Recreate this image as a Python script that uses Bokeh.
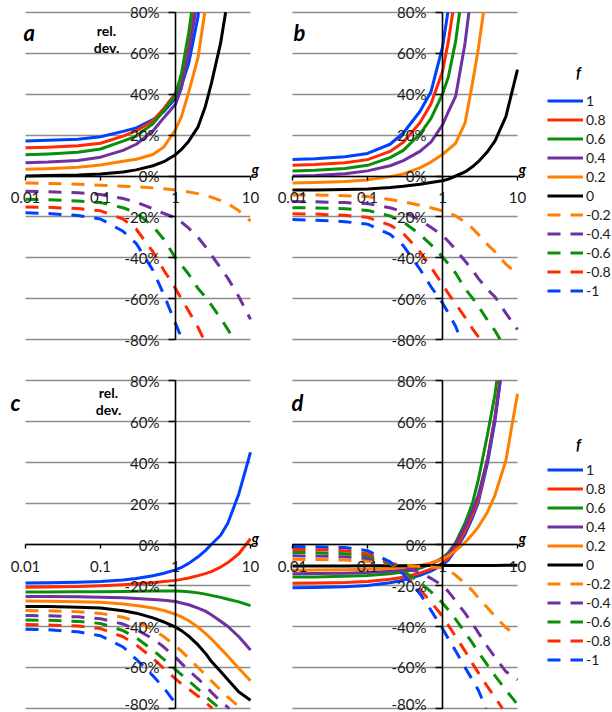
import numpy as np
from bokeh.plotting import figure
from bokeh.models import FixedTicker, Label, Legend, LegendItem
from bokeh.layouts import column, row
from bokeh.embed import file_html
from bokeh.resources import INLINE

# ---------------- data ----------------
G = [0.01, 0.02, 0.05, 0.1, 0.2, 0.3, 0.5, 0.7, 1, 1.2, 1.5, 2, 2.5, 3, 4, 5, 7, 10]

F_LABELS = ["1", "0.8", "0.6", "0.4", "0.2", "0", "-0.2", "-0.4", "-0.6", "-0.8", "-1"]
X_TICKS = [0.01, 0.1, 1, 10]
X_TICK_LABELS = ["0.01", "0.1", "1", "10"]
Y_TICKS = [-80, -60, -40, -20, 0, 20, 40, 60, 80]
Y_TICK_LABELS = ["-80%", "-60%", "-40%", "-20%", "0%", "20%", "40%", "60%", "80%"]

# panel a (rel. dev. in %, at the g values of G)
A_P10 = [17.1, 17.4, 18, 19.2, 21.8, 23.5, 27.5, 31.5, 38, 44, 55, 78]
A_P08 = [13.8, 14.1, 14.8, 16, 19.5, 22, 27, 33, 40.5, 48, 63]
A_P06 = [10.4, 10.8, 11.6, 13.2, 17, 19.5, 25.5, 32, 39.5, 50, 70]
A_P04 = [6.5, 6.8, 7.6, 9.2, 12.5, 15.5, 22, 28.5, 35, 43, 60]
A_P02 = [3.3, 3.6, 4.3, 5.4, 7.2, 8.2, 10.5, 14.2, 22.6, 29, 41, 58]
A_Z = [0, 0.2, 0.5, 1, 2, 3, 5, 7, 10.4, 13, 17, 24, 34, 45, 65]
A_M02 = [-3.4, -3.6, -4, -4.5, -5, -5.3, -5.8, -6.2, -6.8, -7.2, -7.8, -8.6, -9.5, -10.3, -12, -13.5, -17, -22]
A_M04 = [-7.5, -7.7, -8.2, -9, -11, -12.8, -16, -18.3, -20.4, -22.5, -25.5, -30, -34.5, -38.5, -45, -50, -59, -70]
A_M06 = [-11.4, -11.6, -12.2, -13, -15.5, -18, -24.5, -31, -40, -43.5, -48, -55, -59, -63, -69.5, -75]
A_M08 = [-15.1, -15.3, -15.9, -17, -21, -26, -37, -46, -55, -60, -66, -74]
A_M10 = [-18, -18.3, -19.3, -21, -27, -33, -46, -58, -72, -79]
# g at which a curve leaves the chart through the 80% / -80% edge
A_EXIT = [2.02, 1.75, 1.64, 1.85, 2.46, 4.66, None, None, 6.0, 2.4, 1.23]

# panel b
B_P10 = [8, 8.4, 9.4, 11, 15.5, 21, 31.5, 41, 63]
B_P08 = [5.2, 5.6, 6.5, 8, 12, 16.5, 26, 35, 51, 66]
B_P06 = [2.4, 2.8, 3.7, 5.2, 9, 12.5, 20.5, 28, 40, 48.5, 66]
B_P04 = [0, 0.3, 1.1, 2.5, 5, 7.5, 12, 16.5, 25, 31.5, 39, 65]
B_P02 = [-3.4, -3.2, -2.7, -1.9, -0.3, 1, 4, 6.8, 10.5, 13, 16, 26, 45, 62]
B_Z = [-6.8, -6.8, -6.6, -6.3, -5.6, -5, -4, -3.2, -2.3, -1.5, 0, 2, 4.5, 7, 12, 17, 29, 52]
B_M02 = [-9.3, -9.3, -9.6, -10, -11.5, -12.5, -14.3, -15.5, -17, -18, -19.5, -22.5, -25.5, -28.5, -33.5, -37, -43, -48]
B_M04 = [-12.5, -12.6, -13, -13.5, -15.5, -17.5, -21.5, -25, -29, -32, -36, -41.5, -46, -50, -55.5, -59, -67, -75]
B_M06 = [-15.5, -15.6, -16, -16.8, -19.5, -22.5, -28.5, -33.5, -39.5, -43, -47.5, -55, -59.5, -63.5, -70.5, -75.5]
B_M08 = [-18.4, -18.6, -19.2, -20.2, -24, -28, -37, -44.5, -53, -57.5, -62.5, -69, -74.5, -78.5]
B_M10 = [-21.3, -21.6, -22.3, -23.5, -28.5, -34, -45.5, -54, -62, -67, -73.5]
B_EXIT = [1.18, 1.37, 1.69, 2.25, 3.52, None, None, None, 5.9, 3.2, 1.75]

# panel c
C_P10 = [-18.8, -18.7, -18.4, -18, -17.3, -16.6, -15.2, -14, -12.4, -11.2, -9.2, -6, -3, 0, 4.5, 10.5, 24.8, 45]
C_P08 = [-20.8, -20.7, -20.5, -20.1, -19.6, -19.2, -18.6, -18.1, -17.5, -17, -16.3, -15.2, -14.2, -13.2, -11, -8.8, -4.5, 2.8]
C_P06 = [-23.2, -23.2, -23.1, -23, -22.9, -22.8, -22.7, -22.7, -22.7, -22.8, -23, -23.6, -24.2, -24.8, -25.8, -26.7, -28, -29.8]
C_P04 = [-25.4, -25.4, -25.5, -25.7, -26, -26.3, -26.8, -27.2, -27.8, -28.5, -29.4, -31, -32.5, -34.3, -37.4, -40, -45, -51.5]
C_P02 = [-27.6, -27.7, -27.9, -28.2, -29, -29.8, -31, -32.2, -34, -35.3, -37.2, -40.3, -43.4, -46, -50.8, -54.5, -60.5, -66.5]
C_Z = [-30.2, -30.3, -30.6, -31, -32.3, -33.5, -35.8, -37.8, -40.3, -42, -44.7, -49, -53, -57, -62, -66, -72, -76]
C_M02 = [-32.2, -32.3, -32.8, -33.6, -35.5, -37.5, -41.5, -45, -49.5, -52, -55.5, -60, -63.5, -66.5, -71, -74.5, -79]
C_M04 = [-34.6, -34.8, -35.3, -36.2, -38.8, -41.5, -46, -50, -55, -58, -61.5, -65.5, -69, -72, -76.5, -79.5]
C_M06 = [-36.8, -37, -37.5, -38.5, -42, -45.5, -51.5, -56, -61, -63.5, -66.5, -70.5, -74, -76.5]
C_M08 = [-39, -39.2, -39.8, -41, -45, -49, -55.5, -60.5, -65.5, -68, -70.5, -74, -77, -79.5]
C_M10 = [-41.3, -41.6, -42.6, -44.5, -50, -56, -64, -70, -77.5]
C_EXIT = [None, None, None, None, None, None, 7.5, 5.2, 3.9, 3.1, 1.12]

# panel d
D_P10 = [-21.1, -21, -20.6, -20, -18.7, -17.4, -15, -13, -10, -7.5, -2.5, 5, 13, 20.5, 40, 60]
D_P08 = [-18.9, -18.8, -18.5, -18, -17, -16, -14, -12, -9, -6.5, -1.5, 6.5, 14.5, 22, 42, 62]
D_P06 = [-15.9, -15.8, -15.5, -15.1, -14.3, -13.4, -11.6, -9.6, -6.5, -4, 1, 10.5, 20, 31.5, 54, 73]
D_P04 = [-14.3, -14.2, -14, -13.7, -13, -12.3, -11, -9.5, -6.8, -4.5, 0.5, 8.5, 16.5, 24, 42, 62]
D_P02 = [-12.5, -12.4, -12.3, -12.1, -11.7, -11.2, -10.2, -9, -7, -5.5, -3, 1, 5, 8.5, 16, 24, 41, 73.5]
D_Z = [-10.5, -10.5, -10.5, -10.4, -10.4, -10.4, -10.3, -10.3, -10.3, -10.3, -10.3, -10.2, -10.2, -10.2, -10.2, -10.2, -10.1, -10.1]
D_M02 = [-7.2, -7.3, -7.6, -8.2, -9.2, -10, -10.7, -11, -11.5, -12.5, -15, -19, -22.5, -26, -31, -35, -40.5, -45]
D_M04 = [-5.5, -5.6, -6, -6.8, -9, -11.5, -13.5, -16.5, -20, -23, -27.5, -33.5, -38.5, -43, -50, -55, -62, -66]
D_M06 = [-3.9, -4, -4.5, -5.5, -9.5, -13, -18.5, -23, -28.5, -32, -36.5, -43, -48, -52.5, -59, -64, -71, -78]
D_M08 = [-2.4, -2.5, -3, -4.5, -9, -14, -22, -28, -35, -39.5, -45, -52, -58, -62.5, -69.5, -74.5]
D_M10 = [-1, -1.1, -1.5, -3, -8.5, -14.5, -24, -32, -41, -46, -52, -60, -66, -71]
D_EXIT = [5.9, 5.8, 5.3, 5.9, None, None, None, None, None, 6.3, 3.8]

PANEL_A = [A_P10, A_P08, A_P06, A_P04, A_P02, A_Z, A_M02, A_M04, A_M06, A_M08, A_M10]
PANEL_B = [B_P10, B_P08, B_P06, B_P04, B_P02, B_Z, B_M02, B_M04, B_M06, B_M08, B_M10]
PANEL_C = [C_P10, C_P08, C_P06, C_P04, C_P02, C_Z, C_M02, C_M04, C_M06, C_M08, C_M10]
PANEL_D = [D_P10, D_P08, D_P06, D_P04, D_P02, D_Z, D_M02, D_M04, D_M06, D_M08, D_M10]

# ---------------- style / geometry ----------------
BLUE, RED, GREEN, PURPLE, ORANGE, BLACK = "#0040ff", "#ff2a00", "#0a8f0a", "#7030a0", "#ff8000", "#000000"
COLORS = [BLUE, RED, GREEN, PURPLE, ORANGE, BLACK, ORANGE, PURPLE, GREEN, RED, BLUE]
DASHED = [False] * 6 + [True] * 5
FONT = "Lato"
TXT = "#1a1a1a"
GRID = "#8c8c8c"

X_LO, X_HI = X_TICKS[0], X_TICKS[-1]
Y_LO, Y_HI = Y_TICKS[0], Y_TICKS[-1]
PX_PER_DECADE = 75.0
PX_PER_PCT = 327.6 / (Y_HI - Y_LO)


def series_xy(vals, exit_g):
    xs = G[:len(vals)]
    ys = list(vals)
    if exit_g is not None:
        xs = xs + [exit_g]
        ys = ys + [Y_HI if vals[-1] > 0 else Y_LO]
    return xs, ys


def bold_label(p, x, y, dx, dy, text, size, style="bold", align="left"):
    p.add_layout(Label(x=x, y=y, x_offset=dx, y_offset=dy, text=text,
                       text_font=FONT, text_font_size=size, text_font_style=style,
                       text_color="#000000", text_align=align,
                       text_baseline="alphabetic"))


def panel(series, exits, width, height, pad, letter, letter_off, rel_off, legend_loc, f_dy):
    # pad = pixels around the plotted data area: left, right, top, bottom
    left, right, top, bottom = pad
    x0, x1 = X_LO * 10 ** (-left / PX_PER_DECADE), X_HI * 10 ** (right / PX_PER_DECADE)
    y0, y1 = Y_LO - bottom / PX_PER_PCT, Y_HI + top / PX_PER_PCT
    p = figure(x_axis_type="log", x_range=(x0, x1), y_range=(y0, y1),
               width=width, height=height,
               min_border_left=0, min_border_right=0, min_border_top=0, min_border_bottom=0,
               output_backend="svg", toolbar_location=None)
    p.outline_line_color = None
    p.background_fill_color = "white"
    p.border_fill_color = "white"
    p.xgrid.visible = False
    p.ygrid.ticker = FixedTicker(ticks=Y_TICKS, minor_ticks=[])
    p.ygrid.grid_line_color = GRID
    p.ygrid.grid_line_width = 1.3
    try:
        p.ygrid.cross_bounds = (X_LO, X_HI)
    except Exception:
        p.ygrid.visible = False
        n = len(Y_TICKS)
        p.segment(x0=[X_LO] * n, x1=[X_HI] * n, y0=Y_TICKS, y1=Y_TICKS,
                  line_color=GRID, line_width=1.3, level="underlay")

    rends = []
    for vals, ex, col, dashed in zip(series, exits, COLORS, DASHED):
        xs, ys = series_xy(vals, ex)
        r = p.line(xs, ys, line_color=col, line_width=3,
                   line_dash="13 10" if dashed else "solid", line_join="round")
        rends.append(r)

    xa = p.xaxis[0]
    ya = p.yaxis[0]
    xa.fixed_location = 0
    ya.fixed_location = 1
    xa.bounds = (X_LO, X_HI)
    ya.bounds = (Y_LO, Y_HI)
    xa.ticker = FixedTicker(ticks=X_TICKS, minor_ticks=[])
    ya.ticker = FixedTicker(ticks=Y_TICKS, minor_ticks=[])
    xa.major_label_overrides = {t: s for t, s in zip(X_TICKS, X_TICK_LABELS)}
    ya.major_label_overrides = {t: s for t, s in zip(Y_TICKS, Y_TICK_LABELS)}
    for ax in (xa, ya):
        ax.axis_line_color = "#000000"
        ax.axis_line_width = 1.6
        ax.major_tick_line_color = "#000000"
        ax.major_tick_line_width = 1.4
        ax.minor_tick_line_color = None
        ax.major_tick_in = 0
        ax.major_label_text_font = FONT
        ax.major_label_text_font_size = "15px"
        ax.major_label_text_color = TXT
        try:
            ax.major_label_background_fill_color = "white"
        except Exception:
            pass
    xa.major_tick_out = 4
    xa.major_label_standoff = 12
    ya.major_tick_out = 7
    ya.major_label_standoff = 9

    bold_label(p, X_LO, Y_HI, letter_off[0], letter_off[1], letter, "22px", "bold italic")
    if rel_off is not None:
        bold_label(p, 1, Y_HI, rel_off[0], rel_off[1], "rel.", "14px", "bold", "center")
        bold_label(p, 1, Y_HI, rel_off[0], rel_off[2], "dev.", "14px", "bold", "center")
    bold_label(p, X_HI, 0, 1, 7, "g", "15px", "bold italic")

    if legend_loc is not None:
        items = [LegendItem(label=lab, renderers=[r]) for lab, r in zip(F_LABELS, rends)]
        leg = Legend(items=items, location=legend_loc, orientation="vertical",
                     glyph_width=36, glyph_height=19, label_height=19,
                     label_standoff=3, spacing=0, padding=0, margin=0,
                     border_line_color=None, background_fill_alpha=0,
                     label_text_font=FONT, label_text_font_size="14px",
                     label_text_color=TXT)
        p.add_layout(leg)
        bold_label(p, X_HI, Y_HI, 61, f_dy, "f", "15px", "bold italic", "center")
    return p


pa = panel(PANEL_A, A_EXIT, 267, 360, (25, 17, 11.7, 20.7), "a", (-2, -20), (-69, -18, -35), None, 0)
pb = panel(PANEL_B, B_EXIT, 345, 360, (25, 95, 11.7, 20.7), "b", (1, -20), None, (280, 60), -60)
pc = panel(PANEL_C, C_EXIT, 267, 352, (25, 17, 20, 4), "c", (-15, -22), (-67, -12, -29), None, 0)
pd = panel(PANEL_D, D_EXIT, 345, 352, (25, 95, 20, 4), "d", (-1, -22), None, (280, 43), -63)

layout = column(row(pa, pb), row(pc, pd))
open("out.html", "w").write(file_html(layout, INLINE))
